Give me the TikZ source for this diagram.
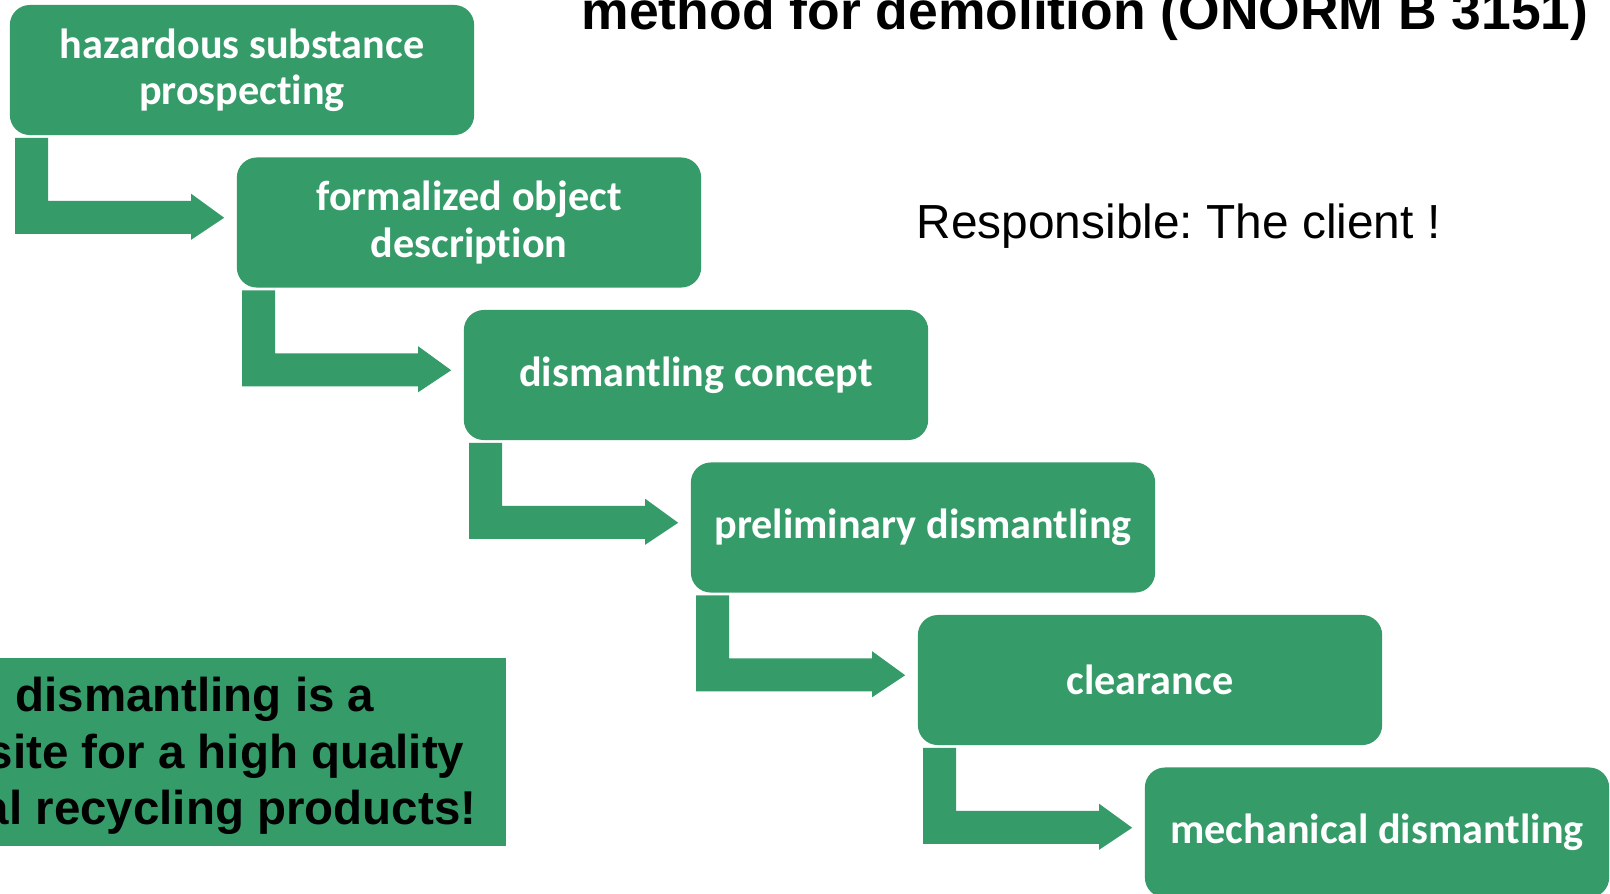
\documentclass[tikz,border=0pt]{standalone}
\usepackage{fontspec}
\setmainfont[Ligatures=NoCommon]{Carlito}
\newfontfamily\arialfont{Liberation Sans}
\usetikzlibrary{calc}
\definecolor{boxgreen}{RGB}{53,155,105}
\frenchspacing
\def\bentarrow(#1)(#2){\fill[boxgreen] ($(#1.south west)+(6,2)$) -- ($(#1.south west)+(39,2)$) -- ($(#1.south west)+(39,65)$) -- ($(#2.west |- #1.south)+(-45,65)$) -- ($(#2.west |- #1.south)+(-45,58)$) -- ($(#2.west |- #1.south)+(-12,82)$) -- ($(#2.west |- #1.south)+(-45,104)$) -- ($(#2.west |- #1.south)+(-45,98)$) -- ($(#1.south west)+(6,98)$) -- cycle;}
\tikzset{stepbox/.style={fill=boxgreen, text=white, rounded corners=0.2cm, minimum width=4.64cm, minimum height=1.3cm, inner sep=0pt, align=center, font=\bfseries\fontsize{12}{13.2}\selectfont}}

\begin{document}
\begin{tikzpicture}[x=0.01cm, y=-0.01cm]
			%%%%% START %%%%%
			\useasboundingbox (0, 0) rectangle (1610, 893);
			\clip (0, 0) rectangle (1610, 893);
			\fill[white] (0, 0) rectangle (1610, 893);
			
			\node[stepbox] (hazard) at (242, 70) {hazardous substance\\prospecting};
			\node[stepbox] (object) at (469, 222.5) {formalized object\\description};
			\node[stepbox] (concept) at (696, 375) {dismantling concept};
			\node[stepbox] (prelim) at (923, 527.5) {preliminary dismantling};
			\node[stepbox] (clear) at (1150, 680) {clearance};
			\node[stepbox] (mech) at (1377, 832.5) {mechanical dismantling};
			
			\bentarrow(hazard)(object)
			\bentarrow(object)(concept)
			\bentarrow(concept)(prelim)
			\bentarrow(prelim)(clear)
			\bentarrow(clear)(mech)
			
			\node[anchor=base west, inner sep=0pt, font=\arialfont\bfseries\fontsize{15.2}{18}\selectfont] (title) at (581, 29) {method for demolition (ÖNORM B 3151)};
			\node[anchor=base west, inner sep=0pt, font=\arialfont\fontsize{13.6}{16}\selectfont] (resp) at (916, 238) {Responsible: The client !};
			
			\fill[boxgreen] (-5, 658) rectangle (506, 846);
			\node[anchor=base east, inner sep=0pt, font=\arialfont\bfseries\fontsize{13.5}{16}\selectfont] (noteA) at (375, 711) {dismantling is a};
			\node[anchor=base east, inner sep=0pt, font=\arialfont\bfseries\fontsize{13.5}{16}\selectfont] (noteB) at (465, 768) {site for a high quality};
			\node[anchor=base east, inner sep=0pt, font=\arialfont\bfseries\fontsize{13.5}{16}\selectfont] (noteC) at (477, 824) {al recycling products!};
			
			%%%%% END %%%%%
\end{tikzpicture}
\end{document}
